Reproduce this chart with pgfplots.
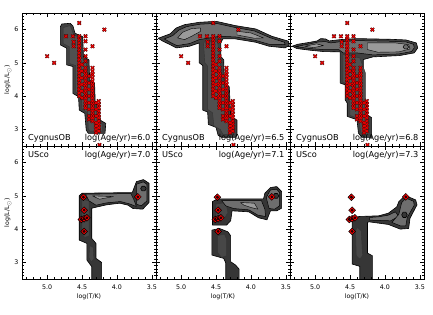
\documentclass[border=0pt]{standalone}
\usepackage{pgfplots}
\pgfplotsset{compat=1.18}
\usepackage{pgfplotstable}
\usepackage{fontspec}
\setmainfont{DejaVu Sans}
\setsansfont{DejaVu Sans}
\newcommand\annot{\fontsize{8.2}{9}\selectfont}
\newcommand\tickf{\fontsize{6.3}{7}\selectfont}
\newcommand\axf{\fontsize{6.2}{7}\selectfont}
\definecolor{cdark}{HTML}{404040}
\definecolor{cinner}{HTML}{505050}
\definecolor{cmid}{HTML}{6E6E6E}
\definecolor{clight}{HTML}{9A9A9A}
\definecolor{cdeep}{HTML}{363636}
\definecolor{cdeepin}{HTML}{474747}
\definecolor{xred}{HTML}{F00000}
\definecolor{xdark}{HTML}{3A0000}

\pgfplotstableread{
x y
5.00 5.20
4.90 5.00
4.18 6.00
4.54 6.20
4.73 5.80
4.63 5.80
4.54 5.80
4.45 5.80
4.62 5.63
4.62 5.50
4.45 5.65
4.35 5.50
4.45 5.40
4.45 5.20
4.54 5.70
4.54 5.60
4.54 5.50
4.54 5.40
4.54 5.30
4.54 5.20
4.54 5.10
4.54 5.00
4.54 4.90
4.54 4.80
4.54 4.70
4.54 4.60
4.54 4.50
4.54 4.40
4.54 4.30
4.54 4.20
4.54 4.10
4.54 4.00
4.50 4.95
4.50 4.75
4.50 4.55
4.50 4.35
4.50 4.15
4.50 3.95
4.45 5.05
4.45 4.85
4.45 4.75
4.45 4.65
4.45 4.55
4.45 4.45
4.45 4.35
4.45 4.25
4.45 4.15
4.45 4.05
4.45 3.95
4.45 3.85
4.45 3.75
4.45 3.65
4.40 4.60
4.40 4.40
4.40 4.20
4.40 4.00
4.40 3.80
4.40 3.60
4.40 3.40
4.40 3.30
4.35 4.85
4.35 4.75
4.35 4.65
4.35 4.55
4.35 4.45
4.35 4.35
4.35 4.25
4.35 4.15
4.35 4.05
4.35 3.95
4.35 3.85
4.35 3.75
4.35 3.65
4.35 3.55
4.35 3.45
4.35 3.35
4.35 3.25
4.30 3.80
4.30 3.60
4.30 3.40
4.30 3.20
4.30 3.10
4.30 3.00
4.26 3.85
4.26 3.75
4.26 3.65
4.26 3.55
4.26 3.45
4.26 3.35
4.26 3.25
4.26 3.15
4.26 3.05
4.26 2.95
4.30 2.90
4.25 2.53
}\cyg

\pgfplotstableread{
x y
4.48 4.96
4.47 4.57
4.51 4.29
4.47 4.31
4.43 4.34
4.47 3.93
3.70 4.97
}\usco

\pgfplotsset{
  panel/.style={
    width=134pt, height=133pt, scale only axis,
    anchor=south west,
    xmin=3.44, xmax=5.36, x dir=reverse,
    ymin=2.5, ymax=6.5,
    xtick={3.5,4,4.5,5}, ytick={3,4,5,6},
    minor xtick={3.5,3.6,3.7,3.8,3.9,4.1,4.2,4.3,4.4,4.6,4.7,4.8,4.9,5.1,5.2,5.3},
    minor ytick={2.6,2.7,2.8,2.9,3.1,3.2,3.3,3.4,3.5,3.6,3.7,3.8,3.9,4.1,4.2,4.3,4.4,4.5,4.6,4.7,4.8,4.9,5.1,5.2,5.3,5.4,5.5,5.6,5.7,5.8,5.9,6.1,6.2,6.3,6.4},
    tick align=inside,
    major tick length=4pt, minor tick length=2pt,
    every tick/.style={black, line width=0.5pt},
    axis line style={line width=0.8pt},
    xticklabels={}, yticklabels={},
    tick label style={font=\tickf},
    xticklabel style={yshift=-2pt},
    axis on top,
  },
  xlab/.style={xticklabels={3.5,4.0,4.5,5.0}, xlabel={log(T/K)},
    xlabel style={at={(axis description cs:0.5,-0.135)}, anchor=center, font=\axf}},
  ylab/.style={yticklabels={3,4,5,6}, ylabel={log(L/L$_\odot$)},
    ylabel style={at={(axis description cs:-0.105,0.5)}, anchor=center, font=\axf}},
  dk/.style={fill=cdark, draw=black, line width=0.6pt, line join=round},
  dp/.style={fill=cdeep, draw=black, line width=0.6pt, line join=round},
  inn/.style={fill=cinner, draw=black!80, line width=0.4pt, line join=round},
  dpin/.style={fill=cdeepin, draw=black!80, line width=0.4pt, line join=round},
  md/.style={fill=cmid, draw=black, line width=0.5pt, line join=round},
  lt/.style={fill=clight, draw=black, line width=0.4pt, line join=round},
  xo/.style={only marks, mark=x, mark size=2.4pt, mark options={line width=1.5pt, draw=xdark}},
  xi/.style={only marks, mark=x, mark size=2.1pt, mark options={line width=0.75pt, draw=xred}},
  dmo/.style={only marks, mark=square*, mark size=2.4pt, mark options={rotate=45, fill=xred, draw=black, line width=0.5pt}},
  dmi/.style={only marks, mark=square*, mark size=0.8pt, mark options={rotate=45, fill=black!75!red, draw=none}},
}

\begin{document}
\begin{tikzpicture}
\path[use as bounding box] (0,0) rectangle (433pt,315pt);

% ---------- top-left: CygnusOB 6.0
\begin{axis}[panel, ylab, at={(22pt,169pt)}]
\addplot[dk] coordinates {(4.81,6.09) (4.79,6.17) (4.67,6.19) (4.63,6.11) (4.60,5.89) (4.49,5.79) (4.48,5.19) (4.40,5.09) (4.39,4.48) (4.32,4.38) (4.31,3.78) (4.25,3.68) (4.24,3.28) (4.16,3.18) (4.17,2.88) (4.41,2.88) (4.44,2.98) (4.46,3.48) (4.54,3.58) (4.55,3.98) (4.63,4.08) (4.63,4.89) (4.72,4.94) (4.72,5.44) (4.81,5.54)} -- cycle;
\addplot[inn] coordinates {(4.77,6.06) (4.67,6.12) (4.65,6.02) (4.62,5.85) (4.53,5.75) (4.52,5.15) (4.44,5.05) (4.43,4.45) (4.36,4.35) (4.35,3.75) (4.29,3.65) (4.28,3.25) (4.21,3.15) (4.21,2.95) (4.39,2.95) (4.41,3.02) (4.42,3.5) (4.50,3.62) (4.51,4.02) (4.59,4.12) (4.59,4.92) (4.68,4.98) (4.68,5.48) (4.77,5.58)} -- cycle;
\addplot[xo] table[x=x,y=y] {\cyg};
\addplot[xi] table[x=x,y=y] {\cyg};
\node[anchor=base west,font=\annot] at (rel axis cs:0.02,0.045) {CygnusOB};
\node[anchor=base east,font=\annot] at (rel axis cs:0.985,0.045) {log(Age/yr)=6.0};
\end{axis}

% ---------- top-middle: CygnusOB 6.5
\begin{axis}[panel, at={(156pt,169pt)}]
\addplot[dk] coordinates {(5.33,5.74) (5.16,5.87) (5.07,6.05) (4.95,6.15) (4.74,6.22) (4.50,6.25) (4.22,6.12) (3.93,6.02) (3.70,5.80) (3.46,5.65) (3.45,5.53) (3.51,5.45) (3.74,5.50) (3.93,5.62) (4.22,5.72) (4.40,5.72) (4.43,5.62) (4.43,5.19) (4.39,5.09) (4.38,4.38) (4.31,4.28) (4.29,3.40) (4.20,3.28) (4.20,2.85) (4.22,2.76) (4.42,2.76) (4.47,2.82) (4.50,3.06) (4.61,3.15) (4.62,3.52) (4.69,3.58) (4.69,4.92) (4.74,5.00) (4.74,5.60) (4.88,5.50) (5.07,5.45) (5.16,5.55) (5.26,5.65)} -- cycle;
\addplot[inn] coordinates {(4.68,5.62) (4.66,5.0) (4.62,4.9) (4.62,3.6) (4.55,3.5) (4.53,3.1) (4.44,3.0) (4.40,2.85) (4.30,2.85) (4.28,3.3) (4.34,3.45) (4.36,4.3) (4.42,4.4) (4.45,5.2) (4.48,5.65)} -- cycle;
\addplot[md] coordinates {(5.24,5.72) (5.12,5.82) (5.03,5.99) (4.92,6.09) (4.74,6.16) (4.50,6.19) (4.24,6.07) (3.95,5.96) (3.73,5.76) (3.52,5.62) (3.51,5.55) (3.74,5.56) (3.94,5.68) (4.22,5.78) (4.45,5.80) (4.74,5.70) (4.88,5.58) (5.06,5.52) (5.14,5.60)} -- cycle;
\addplot[lt] coordinates {(5.05,5.75) (4.98,5.92) (4.85,6.03) (4.72,6.05) (4.72,5.95) (4.85,5.80) (4.95,5.70)} -- cycle;
\addplot[lt] coordinates {(4.20,5.95) (4.00,5.90) (3.82,5.75) (3.95,5.74) (4.20,5.84)} -- cycle;
\addplot[xo] table[x=x,y=y] {\cyg};
\addplot[xi] table[x=x,y=y] {\cyg};
\node[anchor=base west,font=\annot] at (rel axis cs:0.02,0.045) {CygnusOB};
\node[anchor=base east,font=\annot] at (rel axis cs:0.985,0.045) {log(Age/yr)=6.5};
\end{axis}

% ---------- top-right: CygnusOB 6.8
\begin{axis}[panel, at={(290pt,169pt)}]
\addplot[dk] coordinates {(5.33,5.50) (5.25,5.56) (5.10,5.61) (4.97,5.66) (4.92,5.73) (4.85,5.72) (4.80,5.66) (4.64,5.70) (4.40,5.73) (3.93,5.71) (3.70,5.69) (3.55,5.60) (3.53,5.45) (3.58,5.30) (3.79,5.22) (4.17,5.18) (4.31,5.10) (4.31,4.00) (4.26,3.85) (4.26,3.45) (4.19,3.35) (4.19,2.76) (4.33,2.76) (4.38,2.89) (4.40,3.29) (4.54,3.39) (4.54,3.79) (4.57,3.89) (4.57,4.34) (4.64,4.39) (4.64,5.33) (4.88,5.34) (5.07,5.38) (5.26,5.43)} -- cycle;
\addplot[inn] coordinates {(4.60,5.25) (4.60,4.42) (4.53,4.35) (4.53,3.92) (4.50,3.82) (4.50,3.42) (4.37,3.32) (4.35,2.92) (4.30,2.82) (4.23,2.85) (4.23,3.40) (4.28,3.50) (4.28,4.70) (4.36,5.15)} -- cycle;
\addplot[md] coordinates {(5.28,5.49) (5.10,5.56) (4.95,5.63) (4.85,5.64) (4.78,5.60) (4.62,5.64) (4.40,5.67) (3.93,5.65) (3.70,5.63) (3.59,5.56) (3.58,5.45) (3.62,5.34) (3.80,5.27) (4.17,5.24) (4.40,5.30) (4.60,5.30) (4.66,5.40) (4.88,5.40) (5.07,5.43)} -- cycle;
\addplot[lt] coordinates {(4.25,5.60) (3.85,5.60) (3.66,5.55) (3.64,5.42) (3.80,5.33) (4.10,5.32) (4.25,5.40)} -- cycle;
\addplot[lt] coordinates {(5.15,5.50) (4.98,5.57) (4.88,5.52) (5.02,5.46)} -- cycle;
\addplot[md] coordinates {(3.74,5.48) (3.72,5.54) (3.68,5.54) (3.66,5.48) (3.68,5.42) (3.72,5.42)} -- cycle;
\addplot[xo] table[x=x,y=y] {\cyg};
\addplot[xi] table[x=x,y=y] {\cyg};
\node[anchor=base west,font=\annot] at (rel axis cs:0.02,0.045) {CygnusOB};
\node[anchor=base east,font=\annot] at (rel axis cs:0.985,0.045) {log(Age/yr)=6.8};
\end{axis}

% ---------- bottom-left: USco 7.0
\begin{axis}[panel, xlab, ylab, at={(22pt,36pt)}]
\addplot[dp] coordinates {(4.54,5.00) (4.50,5.08) (3.78,5.10) (3.72,5.43) (3.62,5.49) (3.54,5.38) (3.54,4.80) (3.63,4.60) (3.77,4.62) (3.84,4.72) (3.96,4.78) (4.15,4.73) (4.36,4.63) (4.36,3.72) (4.30,3.57) (4.30,3.12) (4.22,3.00) (4.22,2.45) (4.36,2.45) (4.36,2.87) (4.43,3.07) (4.43,3.57) (4.54,3.67)} -- cycle;
\addplot[dpin] coordinates {(4.50,4.90) (4.40,4.85) (4.40,3.80) (4.46,3.75) (4.50,3.85)} -- cycle;
\addplot[dpin] coordinates {(4.39,3.50) (4.34,3.45) (4.33,3.10) (4.37,3.02) (4.40,3.15)} -- cycle;
\addplot[md] coordinates {(4.45,5.05) (3.80,5.07) (3.76,4.90) (3.72,4.68) (3.82,4.76) (3.95,4.83) (4.15,4.79) (4.30,4.72) (4.40,4.85)} -- cycle;
\addplot[lt] coordinates {(4.35,5.00) (4.05,4.98) (4.25,4.90)} -- cycle;
\addplot[md] coordinates {(3.72,5.35) (3.62,5.42) (3.57,5.35) (3.57,4.85) (3.65,4.70) (3.72,4.75)} -- cycle;
\addplot[dp] coordinates {(3.66,5.22) (3.64,5.29) (3.60,5.29) (3.58,5.22) (3.60,5.15) (3.64,5.15)} -- cycle;
\addplot[dmo] table[x=x,y=y] {\usco};
\addplot[dmi] table[x=x,y=y] {\usco};
\node[anchor=base west,font=\annot] at (rel axis cs:0.02,0.91) {USco};
\node[anchor=base east,font=\annot] at (rel axis cs:0.985,0.91) {log(Age/yr)=7.0};
\end{axis}

% ---------- bottom-middle: USco 7.1
\begin{axis}[panel, xlab, at={(156pt,36pt)}]
\addplot[dp] coordinates {(4.55,4.12) (4.55,4.83) (4.48,4.91) (3.82,4.91) (3.80,5.08) (3.72,5.25) (3.63,5.28) (3.56,5.13) (3.56,4.63) (3.63,4.55) (3.72,4.55) (3.77,4.28) (3.89,4.34) (4.03,4.52) (4.27,4.55) (4.29,4.25) (4.35,4.12)} -- cycle;
\addplot[dp] coordinates {(4.56,3.97) (4.45,4.02) (4.33,3.92) (4.29,3.80) (4.29,3.02) (4.22,2.92) (4.17,2.80) (4.17,2.45) (4.36,2.45) (4.36,2.98) (4.39,3.12) (4.56,3.22)} -- cycle;
\addplot[dpin] coordinates {(4.48,3.80) (4.38,3.85) (4.35,3.70) (4.35,3.20) (4.42,3.15) (4.48,3.30)} -- cycle;
\addplot[dpin] coordinates {(4.50,4.75) (4.36,4.80) (4.33,4.50) (4.40,4.25) (4.50,4.20)} -- cycle;
\addplot[md] coordinates {(4.42,4.86) (3.85,4.86) (3.80,4.60) (3.79,4.38) (3.90,4.42) (4.03,4.58) (4.25,4.62) (4.36,4.70)} -- cycle;
\addplot[lt] coordinates {(4.15,4.80) (3.95,4.78) (3.90,4.60) (4.00,4.65) (4.10,4.72)} -- cycle;
\addplot[md] coordinates {(3.78,4.95) (3.72,5.18) (3.63,5.20) (3.59,5.10) (3.59,4.70) (3.66,4.60) (3.74,4.62)} -- cycle;
\addplot[dp] coordinates {(3.68,5.00) (3.66,5.07) (3.62,5.07) (3.60,5.00) (3.62,4.93) (3.66,4.93)} -- cycle;
\addplot[dmo] table[x=x,y=y] {\usco};
\addplot[dmi] table[x=x,y=y] {\usco};
\node[anchor=base west,font=\annot] at (rel axis cs:0.02,0.91) {USco};
\node[anchor=base east,font=\annot] at (rel axis cs:0.985,0.91) {log(Age/yr)=7.1};
\end{axis}

% ---------- bottom-right: USco 7.3
\begin{axis}[panel, xlab, at={(290pt,36pt)}]
\addplot[dp] coordinates {(4.47,4.22) (4.44,4.33) (4.37,4.38) (4.09,4.40) (3.95,4.48) (3.83,4.67) (3.80,4.83) (3.71,5.01) (3.56,4.88) (3.54,4.73) (3.64,4.33) (3.66,4.02) (3.78,4.00) (3.95,4.14) (4.23,4.22) (4.25,4.20) (4.25,3.28) (4.18,3.20) (4.18,2.45) (4.36,2.45) (4.36,2.88) (4.47,2.95)} -- cycle;
\addplot[dpin] coordinates {(4.40,4.05) (4.34,3.95) (4.32,3.20) (4.36,3.10) (4.41,3.20) (4.42,3.95)} -- cycle;
\addplot[md] coordinates {(4.22,4.35) (4.09,4.37) (3.95,4.42) (3.85,4.52) (3.80,4.38) (3.92,4.25) (4.22,4.27)} -- cycle;
\addplot[md] coordinates {(3.76,4.80) (3.70,4.93) (3.59,4.84) (3.58,4.72) (3.68,4.35) (3.70,4.10) (3.78,4.10) (3.90,4.20) (3.80,4.45)} -- cycle;
\addplot[dp] coordinates {(3.76,4.43) (3.74,4.51) (3.70,4.51) (3.68,4.43) (3.70,4.35) (3.74,4.35)} -- cycle;
\addplot[dmo] table[x=x,y=y] {\usco};
\addplot[dmi] table[x=x,y=y] {\usco};
\node[anchor=base west,font=\annot] at (rel axis cs:0.02,0.91) {USco};
\node[anchor=base east,font=\annot] at (rel axis cs:0.985,0.91) {log(Age/yr)=7.3};
\end{axis}
\end{tikzpicture}
\end{document}
